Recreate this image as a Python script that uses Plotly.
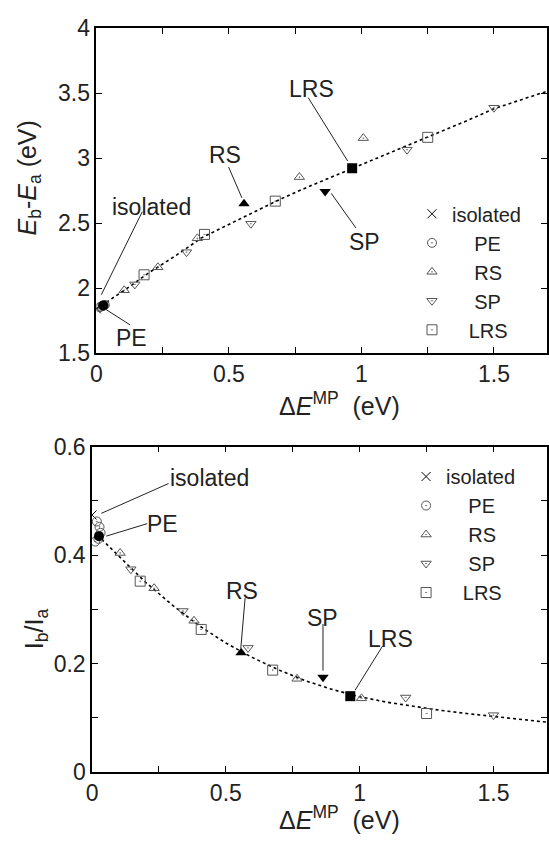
import plotly.graph_objects as go

# ---------------- data ----------------
# shared abscissa: Delta E^MP (eV)
iso_x = [0.0]
pe_x = [0.012, 0.018, 0.024, 0.028, 0.032]
rs_x = [0.105, 0.232, 0.381, 0.766, 1.007]
sp_x = [0.145, 0.340, 0.583, 1.172, 1.500]
lrs_x = [0.180, 0.408, 0.675, 1.250]
# highlighted (filled) points
pe_hx, rs_hx, sp_hx, lrs_hx = [0.026], [0.557], [0.863], [0.965]

# top panel: E_b - E_a (eV)
iso_e = [1.84]
pe_e = [1.852, 1.858, 1.862, 1.866, 1.870]
rs_e = [1.983, 2.160, 2.383, 2.854, 3.154]
sp_e = [2.028, 2.276, 2.495, 3.065, 3.388]
lrs_e = [2.102, 2.413, 2.669, 3.160]
pe_he, rs_he, sp_he, lrs_he = [1.866], [2.649], [2.744], [2.923]
fit_e_x = [0, 0.1, 0.2, 0.3, 0.4, 0.5, 0.6, 0.7, 0.8, 0.9, 1.0, 1.1, 1.2, 1.3, 1.4, 1.5, 1.6, 1.7]
fit_e_y = [1.84, 1.975, 2.12, 2.25, 2.39, 2.49, 2.585, 2.69, 2.78, 2.865, 2.95, 3.03, 3.115,
           3.20, 3.29, 3.38, 3.45, 3.515]

# bottom panel: I_b / I_a
iso_i = [0.474]
pe_i = [0.425, 0.462, 0.430, 0.452, 0.441]
rs_i = [0.404, 0.339, 0.279, 0.172, 0.136]
sp_i = [0.374, 0.297, 0.229, 0.1375, 0.105]
lrs_i = [0.352, 0.263, 0.188, 0.108]
pe_hi, rs_hi, sp_hi, lrs_hi = [0.435], [0.220], [0.175], [0.140]
fit_i_x = [0.02, 0.1, 0.2, 0.3, 0.4, 0.5, 0.6, 0.7, 0.8, 0.9, 1.0, 1.1, 1.2, 1.3, 1.4, 1.5, 1.6, 1.7]
fit_i_y = [0.437, 0.398, 0.350, 0.308, 0.270, 0.238, 0.211, 0.188, 0.168, 0.152, 0.139, 0.129,
           0.121, 0.114, 0.108, 0.103, 0.097, 0.092]

legend_names = ["isolated", "\u00a0\u00a0\u00a0\u00a0PE", "\u00a0\u00a0\u00a0\u00a0RS",
                "\u00a0\u00a0\u00a0\u00a0SP", "\u00a0\u00a0\u00a0LRS"]

# ---------------- styling ----------------
FONT = "Liberation Sans, Arial, Helvetica, sans-serif"
TXT = "#222222"
GRAY = "#555555"
W, H = 549, 852

fig = go.Figure()


def add_panel(xa, ya, leg, iso_y, pe_y, rs_y, sp_y, lrs_y, hl, fit_x, fit_y):
    fig.add_trace(go.Scatter(x=fit_x, y=fit_y, mode="lines", xaxis=xa, yaxis=ya,
                             line=dict(color="black", width=1.6, dash="dot"),
                             showlegend=False, hoverinfo="skip"))
    specs = [
        (iso_x, iso_y, "x-thin-open", 9, "black", legend_names[0]),
        (pe_x, pe_y, "circle-open-dot", 9, GRAY, legend_names[1]),
        (rs_x, rs_y, "triangle-up-open-dot", 9, GRAY, legend_names[2]),
        (sp_x, sp_y, "triangle-down-open-dot", 9, GRAY, legend_names[3]),
        (lrs_x, lrs_y, "square-open-dot", 10, GRAY, legend_names[4]),
    ]
    for xs, ys, sym, sz, col, nm in specs:
        fig.add_trace(go.Scatter(x=xs, y=ys, mode="markers", name=nm, xaxis=xa, yaxis=ya,
                                 legend=leg,
                                 marker=dict(symbol=sym, size=sz, color=col,
                                             line=dict(width=1, color=col))))
    hsyms = [("circle", 10), ("triangle-up", 10), ("triangle-down", 10), ("square", 10)]
    for (hx, hy), (sym, sz) in zip(hl, hsyms):
        fig.add_trace(go.Scatter(x=hx, y=hy, mode="markers", xaxis=xa, yaxis=ya,
                                 showlegend=False,
                                 marker=dict(symbol=sym, size=sz, color="black")))


add_panel("x", "y", "legend", iso_e, pe_e, rs_e, sp_e, lrs_e,
          [(pe_hx, pe_he), (rs_hx, rs_he), (sp_hx, sp_he), (lrs_hx, lrs_he)],
          fit_e_x, fit_e_y)
add_panel("x2", "y2", "legend2", iso_i, pe_i, rs_i, sp_i, lrs_i,
          [(pe_hx, pe_hi), (rs_hx, rs_hi), (sp_hx, sp_hi), (lrs_hx, lrs_hi)],
          fit_i_x, fit_i_y)


def px2paper_x(px):
    return px / W


def px2paper_y(py):
    return 1 - py / H


axis_common = dict(showline=True, linecolor="black", linewidth=1.5, mirror="ticks",
                   ticks="inside", ticklen=6, tickwidth=1, tickcolor="black",
                   showgrid=False, zeroline=False,
                   tickfont=dict(family=FONT, size=23, color=TXT))

top_dom_y = [px2paper_y(350.7), px2paper_y(15.7)]
bot_dom_y = [px2paper_y(783.0), px2paper_y(447.3)]

leg_font = dict(family=FONT, size=20, color=TXT)

fig.update_layout(
    width=W, height=H, margin=dict(l=0, r=0, t=0, b=0),
    paper_bgcolor="white", plot_bgcolor="white",
    font=dict(family=FONT, size=22, color=TXT),
    xaxis=dict(axis_common, domain=[px2paper_x(91.7), 1.0], range=[0, 1.7],
               tickvals=[0, 0.5, 1, 1.5], ticktext=["0", "0.5", "1", "1.5"],
               minor=dict(dtick=0.25, tick0=0, ticks="inside", ticklen=6, tickcolor="black"),
               anchor="y"),
    yaxis=dict(axis_common, domain=top_dom_y, range=[1.5, 4],
               tickvals=[1.5, 2, 2.5, 3, 3.5, 4], ticktext=["1.5", "2", "2.5", "3", "3.5", "4"],
               anchor="x"),
    xaxis2=dict(axis_common, domain=[px2paper_x(87.3), 1.0], range=[0, 1.7],
                tickvals=[0, 0.5, 1, 1.5], ticktext=["0", "0.5", "1", "1.5"],
                minor=dict(dtick=0.25, tick0=0, ticks="inside", ticklen=6, tickcolor="black"),
                anchor="y2"),
    yaxis2=dict(axis_common, domain=bot_dom_y, range=[0, 0.6],
                tickvals=[0, 0.2, 0.4, 0.6], ticktext=["0", "0.2", "0.4", "0.6"],
                minor=dict(dtick=0.1, tick0=0, ticks="inside", ticklen=6, tickcolor="black"),
                anchor="x2"),
    legend=dict(x=px2paper_x(412), y=px2paper_y(187), xanchor="left", yanchor="top",
                bgcolor="rgba(0,0,0,0)", font=leg_font, tracegroupgap=0, itemwidth=30),
    legend2=dict(x=px2paper_x(406), y=px2paper_y(458), xanchor="left", yanchor="top",
                 bgcolor="rgba(0,0,0,0)", font=leg_font, tracegroupgap=0, itemwidth=30),
    showlegend=True,
)

# ---------------- axis titles (as annotations for precise placement) ----------------
titles = [
    dict(text="Δ<i>E</i><sup>MP</sup>  (eV)", x=px2paper_x(338), y=px2paper_y(403), textangle=0),
    dict(text="Δ<i>E</i><sup>MP</sup>  (eV)", x=px2paper_x(338), y=px2paper_y(830), textangle=0),
    dict(text="<i>E</i><sub>b</sub>-<i>E</i><sub>a</sub> (eV)", x=px2paper_x(23),
         y=px2paper_y(170), textangle=-90),
    dict(text="I<sub>b</sub>/I<sub>a</sub>", x=px2paper_x(30), y=px2paper_y(635), textangle=-90),
]
for t in titles:
    fig.add_annotation(xref="paper", yref="paper", showarrow=False,
                       font=dict(family=FONT, size=25, color=TXT),
                       xanchor="center", yanchor="middle", **t)

# ---------------- labels with leader lines ----------------
labels = [
    # (text, text_x, text_y, line_x0, line_y0, line_x1, line_y1, xref, yref)
    ("isolated", 0.209, 2.625, 0.173, 2.587, 0.0186, 1.948, "x", "y"),
    ("PE", 0.134, 1.617, 0.1275, 1.716, 0.037, 1.834, "x", "y"),
    ("RS", 0.487, 3.022, 0.499, 2.931, 0.549, 2.694, "x", "y"),
    ("LRS", 0.8115, 3.535, 0.799, 3.466, 0.948, 2.978, "x", "y"),
    ("SP", 1.0097, 2.356, 0.979, 2.463, 0.886, 2.729, "x", "y"),
    ("isolated", 0.4396, 0.5423, 0.286, 0.532, 0.0346, 0.477, "x2", "y2"),
    ("PE", 0.265, 0.458, 0.206, 0.458, 0.053, 0.435, "x2", "y2"),
    ("RS", 0.562, 0.3345, 0.572, 0.321, 0.556, 0.2286, "x2", "y2"),
    ("SP", 0.860, 0.285, 0.863, 0.273, 0.863, 0.187, "x2", "y2"),
    ("LRS", 1.1145, 0.246, 1.086, 0.2327, 0.983, 0.151, "x2", "y2"),
]
for txt, tx, ty, x0, y0, x1, y1, xr, yr in labels:
    fig.add_annotation(x=tx, y=ty, xref=xr, yref=yr, text=txt, showarrow=False,
                       font=dict(family=FONT, size=23, color=TXT),
                       xanchor="center", yanchor="middle")
    fig.add_shape(type="line", x0=x0, y0=y0, x1=x1, y1=y1, xref=xr, yref=yr,
                  line=dict(color="#222222", width=1))

fig.write_html("out.html")
